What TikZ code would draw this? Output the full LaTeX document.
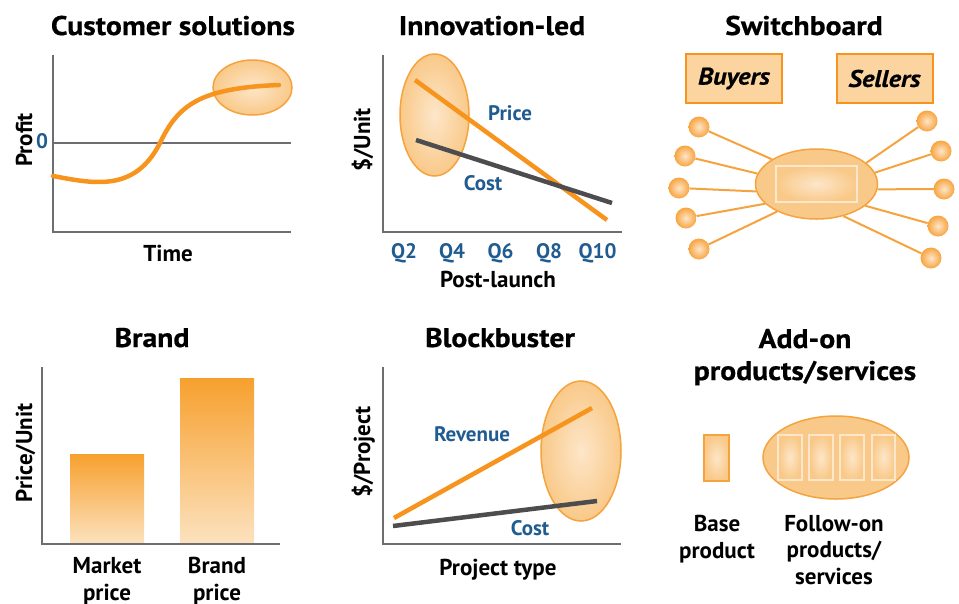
\documentclass[tikz,border=0pt]{standalone}
\usepackage{fontspec}
\setmainfont{PT Sans}
\newfontfamily\headfont{PT Sans}[FakeStretch=1.1,FakeBold=0.6]
\usepackage{tikz}
\usetikzlibrary{shapes.geometric}
\definecolor{bmorange}{HTML}{F7941E}
\definecolor{bmedge}{HTML}{F5A33F}
\definecolor{bmpale}{HTML}{FDE6C9}
\definecolor{bmfill}{HTML}{F9C989}
\definecolor{bmbox}{HTML}{FBD49F}
\definecolor{bmblue}{HTML}{205C8F}
\definecolor{bmgrey}{HTML}{4D4D4F}
\definecolor{bmaxis}{HTML}{6D6E71}
\definecolor{bmbartop}{HTML}{F7A02E}
\definecolor{bmbarbot}{HTML}{FCE2BF}

\begin{document}
\begin{tikzpicture}[x=1pt,y=-1pt,
  title/.style={font=\fontsize{27}{32}\headfont\bfseries,align=center,anchor=base},
  lbl/.style={font=\fontsize{23}{26.5}\selectfont\bfseries,align=center,anchor=base},
  vlbl/.style={lbl,rotate=90},
  val/.style={lbl,font=\fontsize{21}{24}\selectfont\bfseries,text=bmblue},
  axis/.style={draw=bmaxis,line width=2.5pt},
  trend/.style={draw=bmorange,line width=4.5pt},
  costline/.style={draw=bmgrey,line width=4.5pt},
  glow/.style={draw=bmedge,line width=1.5pt,inner color=bmpale,outer color=bmfill},
  pane/.style={draw=bmpale,line width=2pt,inner color=bmpale,outer color=bmfill},
  knob/.style={circle,minimum size=21pt,inner sep=0pt,inner color=bmpale,outer color=bmorange!85},
  spoke/.style={draw=bmedge,line width=2pt},
  hub/.style={ellipse,draw=bmedge,line width=1.5pt,fill=bmfill,minimum width=122pt,
              minimum height=70pt,inner sep=0pt},
  party/.style={draw=bmorange,line width=2pt,fill=bmbox,minimum width=96pt,minimum height=49pt,
                font=\fontsize{24}{26}\headfont\bfseries\itshape}]
\useasboundingbox (0,0) rectangle (959,603);

% customer solutions
\node[title] (tsol) at (173,35) {Customer solutions};
\shadedraw[glow] (252.5,87.5) ellipse [x radius=39.5, y radius=27.5];
\draw[axis] (53,55) -- (53,232) -- (291,232);
\draw[axis,line width=2pt] (53,143) -- (291,143);
\draw[trend,line cap=round] (53,176) .. controls (95,184) and (135,192) .. (160,143)
  .. controls (178,105) and (200,88) .. (279,85);
\node[vlbl] (profit) at (32,140) {Profit};
\node[val] (zero) at (42,148) {0};
\node[lbl] (time) at (168,261) {Time};

% innovation-led
\node[title] (tinno) at (492,35) {Innovation-led};
\shadedraw[glow] (434.5,115) ellipse [x radius=34.5, y radius=61];
\draw[axis] (383,55) -- (383,232) -- (622,232);
\draw[trend] (415,80) -- (607,220);
\draw[costline] (416,140) -- (612,203);
\node[val] (price) at (510,120) {Price};
\node[val] (cost) at (483,190) {Cost};
\foreach \q/\x in {2/404,4/452,6/500.5,8/549,10/597.5}
  \node[val] (q\q) at (\x,258) {Q\q};
\node[lbl] (launch) at (498,287) {Post-launch};
\node[vlbl] (unit) at (370,140) {\$/Unit};

% switchboard
\node[title] (tswitch) at (804,35) {Switchboard};
\node[party] (buyers) at (734,78.5) {Buyers};
\node[party] (sellers) at (884.5,78.5) {Sellers};
\node[hub] (hub) at (816.5,184) {};
\shadedraw[pane] (776,166) rectangle (857,202);
\foreach \i/\x/\y/\a in {1/699/127/151,2/685/156/170,3/679/188/187,4/686/218/201,5/699/249/215,
                        6/927/121/23,7/941/151/11,8/944/189/355,9/938/226/336,10/931/258/310}{
  \node[knob] (k\i) at (\x,\y) {};
  \draw[spoke] (k\i) -- (hub.\a);
}

% brand
\node[title] (tbrand) at (152,347) {Brand};
\shade[top color=bmbartop,bottom color=bmbarbot] (70,454) rectangle (144,544);
\shade[top color=bmbartop,bottom color=bmbarbot] (180,378) rectangle (254,544);
\draw[axis] (42,367) -- (42,544) -- (280,544);
\node[lbl] (market) at (107,600) {Market\\price};
\node[lbl] (bprice) at (217,600) {Brand\\price};
\node[vlbl] (ppu) at (32,453) {Price/Unit};

% blockbuster
\node[title] (tblock) at (500,347) {Blockbuster};
\shadedraw[glow] (581,451) ellipse [x radius=40, y radius=70];
\draw[axis] (383,367) -- (383,544) -- (621,544);
\draw[trend] (394,518) -- (592,408);
\draw[costline] (393,526) -- (597,501);
\node[val] (revenue) at (472,441) {Revenue};
\node[val] (pcost) at (530,535) {Cost};
\node[lbl] (ptype) at (498,575) {Project type};
\node[vlbl] (perproj) at (370,452) {\$/Project};

% add-on products/services
\node[title] (tadd) at (805,380) {Add-on\\products/services};
\shadedraw[draw=bmedge,line width=2pt,inner color=bmpale,outer color=bmfill]
  (704,435) rectangle (729,481);
\filldraw[draw=bmedge,line width=1.5pt,fill=bmfill] (836,457.5) ellipse [x radius=73, y radius=41.5];
\foreach \x in {778.3,809.3,840.3,871.7}
  \shadedraw[pane] (\x,435) rectangle ++(23.4,45);
\node[lbl] (base) at (717,558) {Base\\product};
\node[lbl] (follow) at (834,584) {Follow-on\\products/\\services};
\end{tikzpicture}
\end{document}
